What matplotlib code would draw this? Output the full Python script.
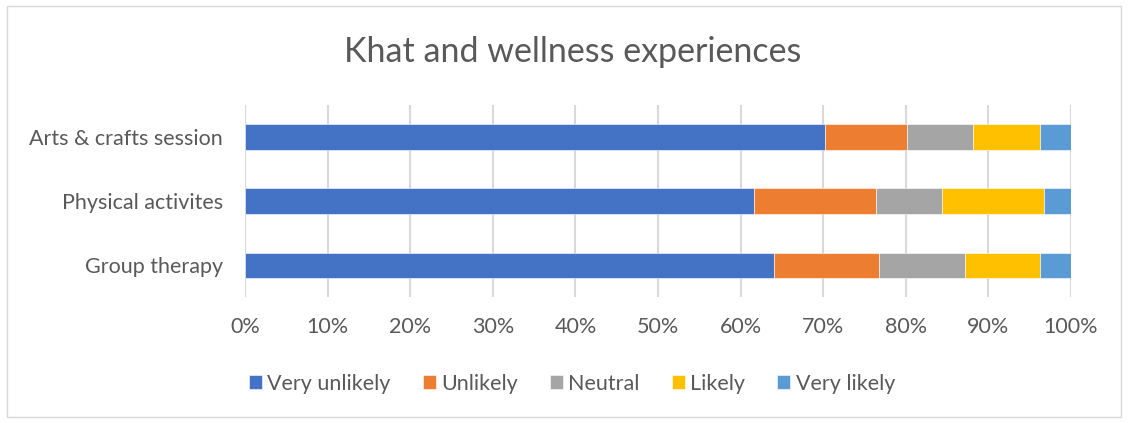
import matplotlib
matplotlib.use("Agg")
import matplotlib.pyplot as plt
from matplotlib.patches import Rectangle
from matplotlib.ticker import PercentFormatter
import numpy as np

plt.rcParams['font.family'] = ['Lato', 'DejaVu Sans']

categories = ["Group therapy", "Physical activites", "Arts & crafts session"]
series_names = ["Very unlikely", "Unlikely", "Neutral", "Likely", "Very likely"]
very_unlikely = [64.0, 61.6, 70.2]
unlikely = [12.7, 14.8, 10.0]
neutral = [10.5, 8.0, 7.9]
likely = [9.0, 12.3, 8.1]
very_likely = [3.8, 3.3, 3.8]
colors = ["#4472C4", "#ED7D31", "#A5A5A5", "#FFC000", "#5B9BD5"]
xticks = [0, 10, 20, 30, 40, 50, 60, 70, 80, 90, 100]

values = np.array([very_unlikely, unlikely, neutral, likely, very_likely])
totals = values.sum(axis=0)
shares = values / totals * 100

text_color = "#595959"
grid_color = "#D9D9D9"

fig = plt.figure(figsize=(11.28, 4.23), dpi=100)
fig.patches.append(Rectangle((0.006, 0.014), 0.988, 0.972, transform=fig.transFigure,
                             fill=False, edgecolor=grid_color, linewidth=1.0))

ax = fig.add_axes([0.2172, 0.2967, 0.7323, 0.4551])
y = np.arange(len(categories))
left = np.zeros(len(categories))
for name, share, color in zip(series_names, shares, colors):
    ax.barh(y, share, left=left, height=0.4, color=color, label=name,
            edgecolor="white", linewidth=0.4, zorder=3)
    left += share

ax.set_xlim(0, 100)
ax.set_ylim(-0.5, len(categories) - 0.5)
ax.set_xticks(xticks)
ax.xaxis.set_major_formatter(PercentFormatter(decimals=0))
ax.set_yticks(y)
ax.set_yticklabels(categories)
ax.tick_params(axis='both', length=0, labelsize=15.5, colors=text_color)
ax.tick_params(axis='x', pad=14)
ax.tick_params(axis='y', pad=16)
ax.grid(axis='x', color=grid_color, linewidth=1.5, zorder=0)
for s in ax.spines.values():
    s.set_visible(False)

fig.text(0.5075, 0.878, "Khat and wellness experiences", ha='center', va='center',
         fontsize=24.5, color=text_color)

fig.legend(loc='center', bbox_to_anchor=(0.507, 0.093), ncol=5, frameon=False,
           fontsize=15.5, labelcolor=text_color, handlelength=0.6, handleheight=0.6,
           handletextpad=0.25, columnspacing=1.5)

fig.savefig("out.png", dpi=100)
